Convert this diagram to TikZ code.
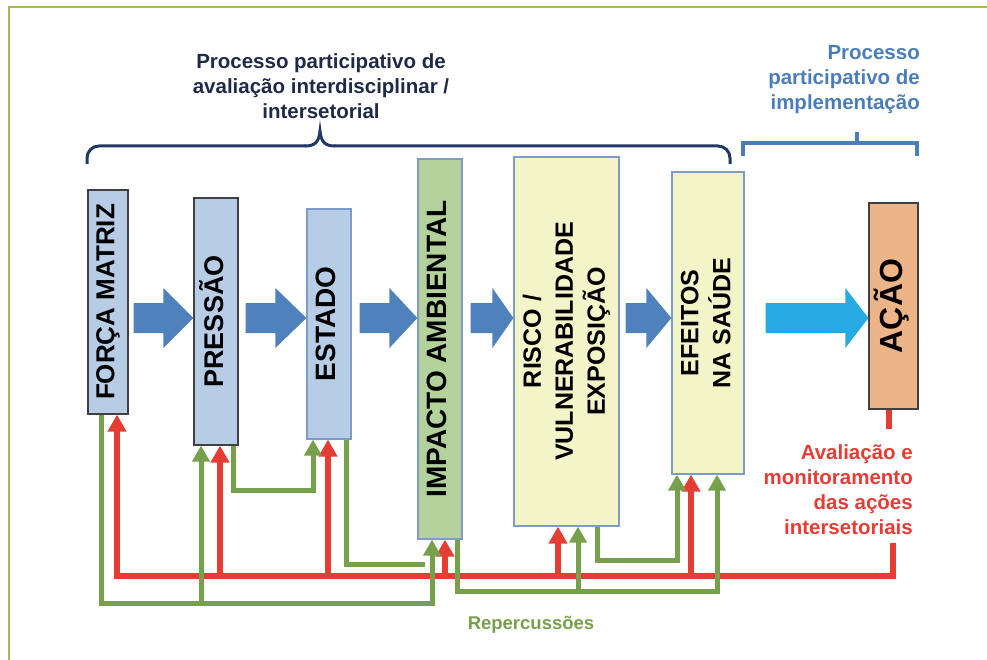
\documentclass[tikz,border=0pt]{standalone}
\usepackage{fontspec}
\setmainfont{Liberation Sans}
\usepackage{graphicx}
\definecolor{dsNavy}{HTML}{1F3864}
\definecolor{dsInk}{HTML}{1E2A47}
\definecolor{dsSky}{HTML}{4A7EBB}
\definecolor{dsArrow}{HTML}{4F81BD}
\definecolor{dsCyan}{HTML}{27AAE1}
\definecolor{dsRed}{HTML}{E53C33}
\definecolor{dsGreen}{HTML}{76A04B}
\definecolor{dsFrame}{HTML}{A4B85C}
\definecolor{dsBoxBlue}{HTML}{B7CDE5}
\definecolor{dsBoxGreen}{HTML}{B3D29B}
\definecolor{dsBoxYellow}{HTML}{F3F5C8}
\definecolor{dsBoxOrange}{HTML}{EDB488}
\definecolor{dsEdge}{HTML}{7F9CC8}
\usetikzlibrary{arrows.meta,calc}

\newcommand\vlabel[1]{\rotatebox{90}{\begin{tabular}{@{}c@{}}#1\end{tabular}}}
% big flow arrow: from node, to node, gap, head length, colour
\newcommand\flowarrow[5]{%
  \fill[#5] ($(#1.east |- 0,303)+(#3,0)$) -- ($(#2.west |- 0,303)-(#4,0)$) -- ++(0,-15)
    -- (#2.west |- 0,318) -- ($(#2.west |- 0,348)-(#4,0)$) -- ++(0,-15)
    -- ($(#1.east |- 0,333)+(#3,0)$) -- cycle;}

\begin{document}
\begin{tikzpicture}[
  x=1pt,y=-1pt,
  stage/.style={draw=dsEdge,line width=1.2pt,inner sep=0pt},
  vfont/.style={font=\bfseries\fontsize{#1}{32}\selectfont},
  txt/.style={inner sep=0pt,font=\bfseries\fontsize{20.5}{25}\selectfont},
  redline/.style={draw=dsRed,line width=6pt},
  greenline/.style={draw=dsGreen,line width=5pt},
  redtip/.style={-{Triangle[width=18pt,length=17pt]}},
  greentip/.style={-{Triangle[width=17pt,length=16pt]}}
]
\useasboundingbox (0,0) rectangle (987,660);
\draw[dsFrame,line width=1.6pt] (9,660) -- (9,7) -- (987,7);

% the chain of stages
\node[stage,fill=dsBoxBlue,draw=black!75,minimum width=40pt,minimum height=224pt,vfont=26] (forca) at (108,302) {\vlabel{FORÇA MATRIZ}};
\node[stage,fill=dsBoxBlue,draw=black!75,minimum width=44pt,minimum height=247pt,vfont=27] (pressao) at (216,321.5) {\vlabel{PRESSÃO}};
\node[stage,fill=dsBoxBlue,minimum width=44pt,minimum height=230pt,vfont=28] (estado) at (329,324) {\vlabel{ESTADO}};
\node[stage,fill=dsBoxGreen,minimum width=44pt,minimum height=380pt,vfont=28] (impacto) at (440,349) {\vlabel{IMPACTO AMBIENTAL}};
\node[stage,fill=dsBoxYellow,minimum width=105pt,minimum height=369pt,vfont=25] (risco) at (566.5,341.5) {\vlabel{RISCO /\\VULNERABILIDADE\\EXPOSIÇÃO}};
\node[stage,fill=dsBoxYellow,minimum width=72pt,minimum height=302pt,vfont=25] (efeitos) at (708,323) {\vlabel{EFEITOS\\NA SAÚDE}};
\node[stage,fill=dsBoxOrange,draw=black!75,minimum width=49pt,minimum height=206pt,vfont=32] (acao) at (893.5,306) {\vlabel{AÇÃO}};

\foreach \a/\b/\g/\l in {forca/pressao/5/30, pressao/estado/7/31, estado/impacto/8/28,
                         impacto/risco/8/21, risco/efeitos/6/25}
  \flowarrow{\a}{\b}{\g}{\l}{dsArrow};
\flowarrow{efeitos}{acao}{21}{23}{dsCyan}

% headings and braces
\node[txt,text=dsInk,align=center] (evalhead) at (321,86) {Processo participativo de\\avaliação interdisciplinar /\\intersetorial};
\node[txt,text=dsSky,align=right,anchor=east] (implhead) at (920,80) {Processo\\participativo de\\implementação};
\draw[dsNavy,line width=3pt,rounded corners=12pt] (87,164) -- (87,146) -- (306,146);
\draw[dsNavy,line width=3pt] (305,146) .. controls (315,146) and (319,142) .. (320,131)
  .. controls (321,142) and (325,146) .. (335,146);
\draw[dsNavy,line width=3pt,rounded corners=12pt] (334,146) -- (730,146) -- (730,164);
\draw[dsSky,line width=4pt] (743,156) -- (743,143) -- (917,143) -- (917,156);
\draw[dsSky,line width=4pt] (857,143) -- (857,132);

% evaluation loop
\node[txt,text=dsRed,align=right,anchor=east] (aval) at (913,490) {Avaliação e\\monitoramento\\das ações\\intersetoriais};
\draw[redline] (acao.south -| 889,0) -- (889,429);
\draw[redline,line cap=rect] (893,546) -- (893,576) -- (117,576);
\foreach \n/\x in {forca/117, pressao/220, estado/328, impacto/445, risco/558, efeitos/691}
  \draw[redline,redtip] (\x,576) -- (\n.south -| \x,0);

% repercussions
\draw[greenline,greentip] (forca.south -| 101,0) -- (101,603) -- (432,603) -- (impacto.south -| 432,0);
\draw[greenline,greentip] (201,603) -- (pressao.south -| 201,0);
\draw[greenline,greentip] (pressao.south -| 233,0) -- (233,490) -- (313,490) -- (estado.south -| 313,0);
\draw[greenline] (estado.south -| 346,0) -- (346,564) -- (425,564);
\draw[greenline,greentip] (impacto.south -| 457,0) -- (457,591) -- (717,591) -- (efeitos.south -| 717,0);
\draw[greenline,greentip] (578,591) -- (risco.south -| 578,0);
\draw[greenline,greentip] (risco.south -| 597,0) -- (597,560) -- (677,560) -- (efeitos.south -| 677,0);
\node[font=\bfseries\fontsize{18.5}{22}\selectfont,text=dsGreen,inner sep=0pt] (reperc) at (531,625) {Repercussões};
\end{tikzpicture}
\end{document}
